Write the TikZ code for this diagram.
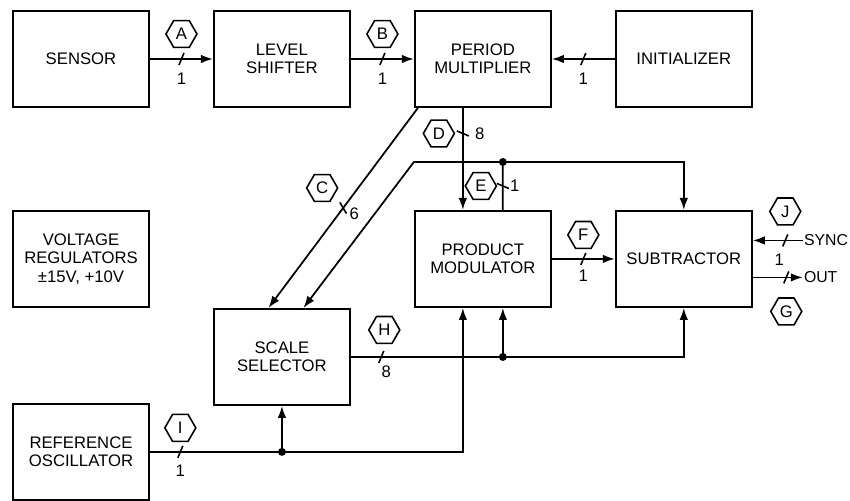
\documentclass[tikz,border=0pt]{standalone}
\usepackage{fontspec}
\setsansfont{Liberation Sans}
\usetikzlibrary{arrows.meta,positioning,calc,shapes.geometric}

\begin{document}
\begin{tikzpicture}[
  box/.style={draw, line width=1.1pt, minimum width=2.72cm, minimum height=1.92cm, align=center, font=\sffamily\fontsize{9.5}{10.5}\selectfont},
  hex/.style={draw, regular polygon, regular polygon sides=6, minimum size=0.62cm, inner sep=0pt, line width=0.9pt, font=\sffamily\fontsize{9.5}{9.5}\selectfont},
  num/.style={font=\sffamily\fontsize{9.5}{10}\selectfont, inner sep=1pt},
  wire/.style={line width=1pt},
  arr/.style={wire, -{Latex[length=2.4mm, width=1.7mm]}},
  busmark/.pic={\draw[line width=0.9pt, -] (-0.05,-0.12) -- (0.05,0.12);},
  node distance=2.04cm and 1.26cm,
]
  \useasboundingbox (-1.62,1.18) rectangle (15.38,-8.84);

  % Row 1
  \node[box] (sensor) {SENSOR};
  \node[box, right=of sensor] (shift) {LEVEL\\SHIFTER};
  \node[box, right=of shift] (pm) {PERIOD\\MULTIPLIER};
  \node[box, right=of pm] (init) {INITIALIZER};

  % Row 2
  \node[box, below=of sensor] (volt) {VOLTAGE\\REGULATORS\\±15V, +10V};
  \node[box, below=of pm] (prod) {PRODUCT\\MODULATOR};
  \node[box, below=of init] (sub) {SUBTRACTOR};

  % Row 3
  \node[box, below=4.0cm of shift] (scale) {SCALE\\SELECTOR};
  \node[box, below=1.9cm of volt] (ref) {REFERENCE\\OSCILLATOR};

  % Outside terminals
  \node[num, font=\sffamily\fontsize{9}{9}\selectfont, inner sep=0.5pt, anchor=west] (synct) at ([xshift=1.0cm, yshift=0.37cm]sub.east) {SYNC};
  \node[num, font=\sffamily\fontsize{9}{9}\selectfont, inner sep=0.5pt, anchor=west] (outt) at ([xshift=1.0cm, yshift=-0.37cm]sub.east) {OUT};

  % Junctions
  \coordinate (ej) at ([xshift=0.4cm, yshift=0.96cm]prod.north);
  \coordinate (k1) at (pm.south west |- ej);
  \coordinate (hj) at ([xshift=0.4cm]prod.south |- scale.east);
  \coordinate (ij) at (scale.south |- ref.east);

  % Buses row 1
  \draw[arr] (sensor) -- pic[pos=.5, sloped]{busmark}
    node[hex, pos=.5, yshift=0.5cm] (hexA) {A}
    node[num, pos=.5, yshift=-0.4cm] (nA) {1} (shift);
  \draw[arr] (shift) -- pic[pos=.5, sloped]{busmark}
    node[hex, pos=.5, yshift=0.5cm] (hexB) {B}
    node[num, pos=.5, yshift=-0.4cm] (nB) {1} (pm);
  \draw[arr] (init) -- pic[pos=.5, sloped]{busmark}
    node[num, pos=.5, yshift=-0.4cm] (nK) {1} (pm);

  % Period multiplier down
  \draw[arr] ([xshift=-0.4cm]pm.south) -- pic[pos=.25, sloped]{busmark}
    node[hex, pos=.25, xshift=-0.48cm] (hexD) {D}
    node[num, pos=.25, xshift=0.34cm] (nD) {8} ([xshift=-0.4cm]prod.north);
  \draw[arr] ([xshift=0.08cm]pm.south west) -- pic[pos=.5, sloped]{busmark}
    node[hex, pos=.5, xshift=-0.42cm, yshift=0.4cm] (hexC) {C}
    node[num, pos=.5, xshift=0.22cm, yshift=-0.11cm] (nC) {6} ([xshift=-0.27cm]scale.north);

  % Product modulator out
  \draw[arr] ([xshift=0.4cm]prod.north) -- pic[pos=.5, sloped]{busmark}
    node[hex, pos=.5, xshift=-0.44cm] (hexE) {E}
    node[num, pos=.5, xshift=0.24cm] (nE) {1} (ej) -- (k1) -- ([xshift=0.43cm]scale.north);
  \draw[arr] (ej) -| (sub.north);
  \fill (ej) circle (0.08);
  \draw[arr] (prod) -- pic[pos=.5, sloped]{busmark}
    node[hex, pos=.5, yshift=0.48cm] (hexF) {F}
    node[num, pos=.5, yshift=-0.34cm] (nF) {1} (sub);

  % Subtractor terminals
  \draw[arr] (synct.west) -- pic[pos=.35, sloped]{busmark}
    node[hex, pos=.35, yshift=0.58cm] (hexJ) {J}
    node[num, pos=.35, xshift=-0.12cm, yshift=-0.38cm] (nJ) {1} (synct.west -| sub.east);
  \draw[arr] (outt.west -| sub.east) -- pic[pos=.67, sloped]{busmark}
    node[hex, pos=.67, yshift=-0.68cm] (hexG) {G} (outt.west);

  % Scale selector out
  \draw[wire] (scale.east) -- pic[pos=.2, sloped]{busmark}
    node[hex, pos=.2, xshift=0.06cm, yshift=0.54cm] (hexH) {H}
    node[num, pos=.2, xshift=0.1cm, yshift=-0.3cm] (nH) {8} (hj);
  \draw[arr] (hj) -- ([xshift=0.4cm]prod.south);
  \draw[arr] (hj) -| (sub.south);
  \fill (hj) circle (0.08);

  % Reference oscillator out
  \draw[wire] (ref.east) -- pic[pos=.23, sloped]{busmark}
    node[hex, pos=.23, yshift=0.48cm] (hexI) {I}
    node[num, pos=.23, yshift=-0.38cm] (nI) {1} (ij);
  \draw[arr] (ij) -- (scale.south);
  \draw[arr] (ij) -| ([xshift=-0.4cm]prod.south);
  \fill (ij) circle (0.08);
\end{tikzpicture}
\end{document}
